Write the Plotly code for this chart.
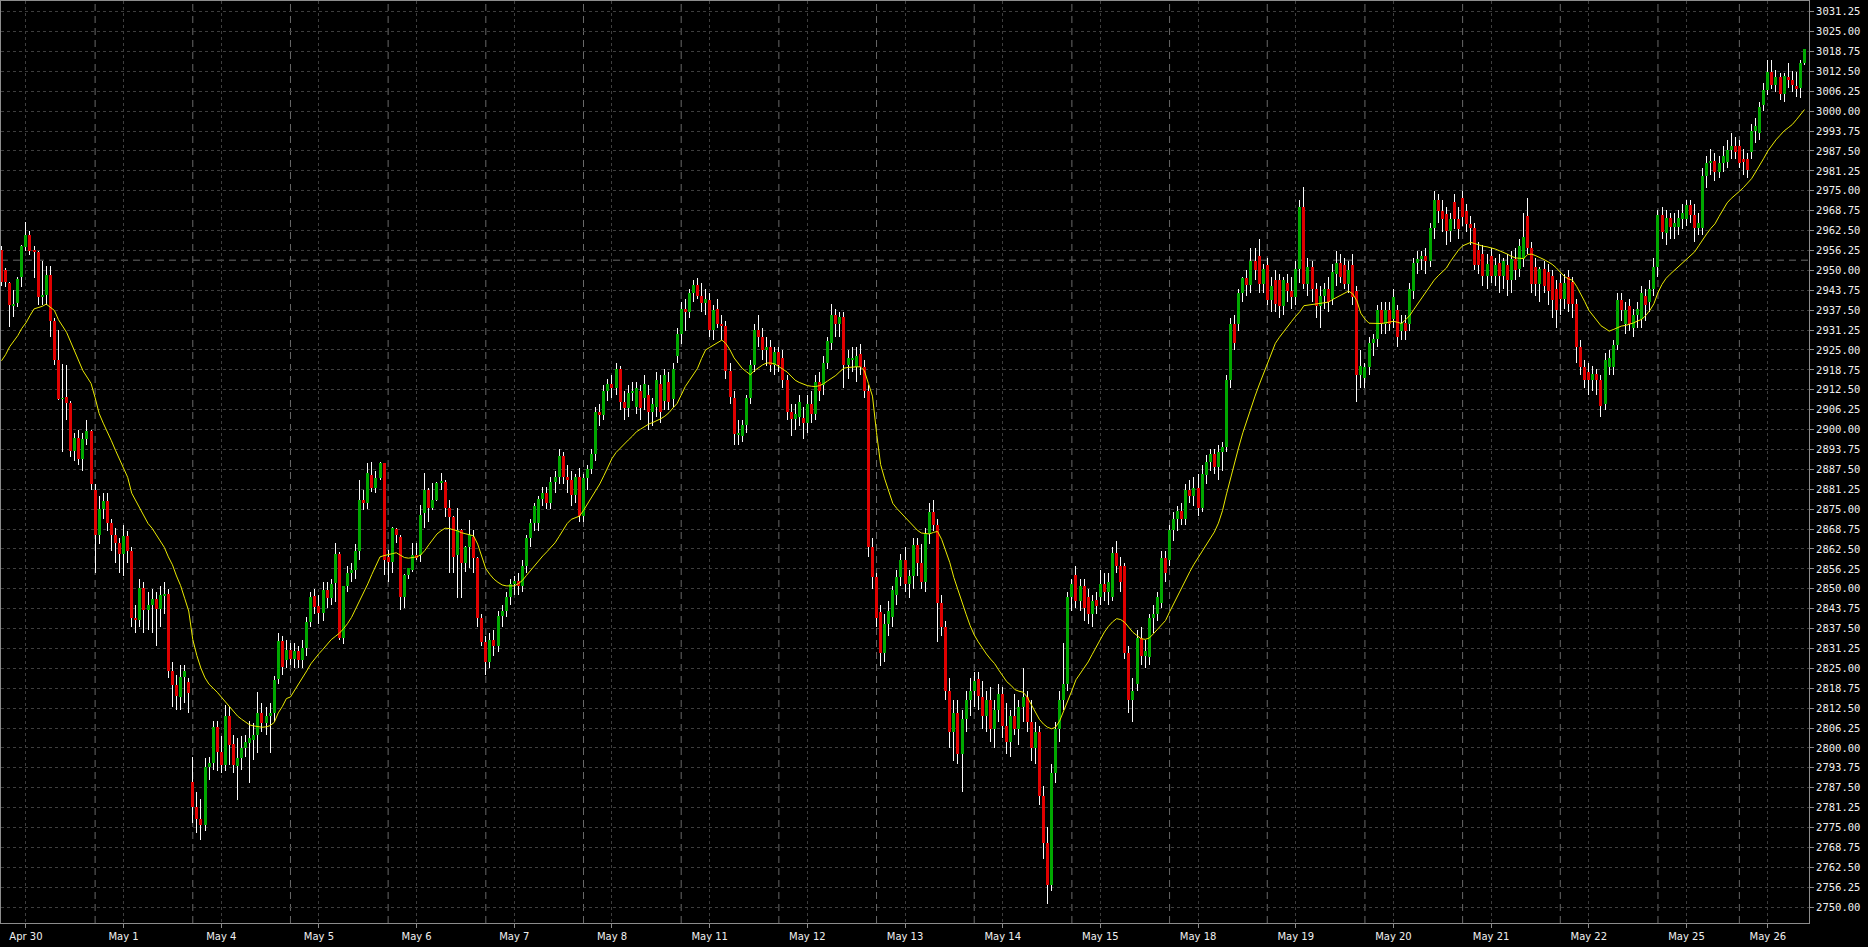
import plotly.graph_objects as go

# ---------------- data ----------------
day_labels = ["Apr 30", "May 1", "May 4", "May 5", "May 6", "May 7", "May 8", "May 11",
              "May 12", "May 13", "May 14", "May 15", "May 18", "May 19", "May 20",
              "May 21", "May 22", "May 25", "May 26"]
session_start_bars = [-1, 23, 47, 71, 95, 119, 143, 167, 191, 215, 239, 263, 287, 311,
                      335, 359, 383, 407, 427]
label_bars = [6, 30, 54, 78, 102, 126, 150, 174, 198, 222, 246, 270, 294, 318, 342,
              366, 390, 414, 434]
price_ticks = [2750.00, 2756.25, 2762.50, 2768.75, 2775.00, 2781.25, 2787.50, 2793.75,
               2800.00, 2806.25, 2812.50, 2818.75, 2825.00, 2831.25, 2837.50, 2843.75,
               2850.00, 2856.25, 2862.50, 2868.75, 2875.00, 2881.25, 2887.50, 2893.75,
               2900.00, 2906.25, 2912.50, 2918.75, 2925.00, 2931.25, 2937.50, 2943.75,
               2950.00, 2956.25, 2962.50, 2968.75, 2975.00, 2981.25, 2987.50, 2993.75,
               3000.00, 3006.25, 3012.50, 3018.75, 3025.00, 3031.25]
level_line = 2953.2

opens = [
    2956.5, 2950.0, 2946.0, 2939.0, 2939.6, 2947.8, 2957.2, 2961.1, 2956.2, 2955.9, 2941.7, 2942.3, 2948.5, 2934.2, 2921.9, 2909.6, 2910.3, 2908.4, 2893.4, 2897.5, 2890.7, 2897.0, 2899.5,
    2881.0, 2867.0, 2875.0, 2877.5, 2870.6, 2867.0, 2864.5, 2861.0, 2866.5, 2861.8, 2840.7, 2840.3, 2850.2, 2843.4, 2845.0, 2846.8, 2843.5, 2847.9, 2848.4, 2824.3, 2819.8, 2816.1, 2822.4, 2820.8,
    2789.4, 2781.4, 2777.6, 2775.8, 2793.9, 2795.2, 2806.7, 2798.8, 2794.6, 2810.0, 2801.2, 2794.3, 2796.7, 2800.1, 2801.5, 2802.5, 2804.1, 2811.1, 2807.7, 2810.0, 2810.9, 2821.6, 2833.6, 2827.6,
    2830.8, 2828.0, 2830.5, 2827.6, 2831.3, 2839.7, 2847.7, 2844.6, 2842.3, 2849.6, 2847.0, 2851.7, 2860.9, 2834.4, 2850.7, 2854.9, 2855.9, 2861.7, 2877.9, 2876.8, 2885.7, 2881.5, 2884.7, 2889.4,
    2860.0, 2858.5, 2868.7, 2866.4, 2847.5, 2854.3, 2855.9, 2860.6, 2860.6, 2873.7, 2881.0, 2875.3, 2877.9, 2883.1, 2883.6, 2875.3, 2872.6, 2860.6, 2868.5, 2858.0, 2863.2, 2866.4, 2859.6, 2840.7,
    2833.2, 2827.0, 2833.9, 2832.0, 2841.4, 2843.0, 2847.5, 2851.6, 2852.5, 2851.0, 2857.0, 2866.0, 2870.6, 2870.5, 2878.1, 2880.0, 2877.0, 2883.6, 2885.0, 2891.8, 2885.0, 2884.0, 2879.5, 2885.0,
    2873.0, 2884.9, 2887.6, 2892.4, 2905.4, 2904.7, 2912.2, 2914.2, 2913.0, 2919.0, 2908.8, 2906.7, 2911.5, 2907.0, 2912.2, 2910.0, 2911.0, 2905.4, 2907.0, 2914.2, 2909.0, 2915.0, 2909.5, 2923.0,
    2929.9, 2938.0, 2937.0, 2942.8, 2945.5, 2942.0, 2939.6, 2940.8, 2931.3, 2938.0, 2933.0, 2932.6, 2918.3, 2910.0, 2898.5, 2898.0, 2901.3, 2910.0, 2920.4, 2931.3, 2929.0, 2925.0, 2926.0, 2920.4,
    2924.5, 2922.6, 2915.6, 2905.4, 2903.4, 2904.0, 2903.5, 2902.0, 2908.1, 2905.0, 2914.9, 2914.0, 2921.0, 2927.2, 2936.0, 2933.0, 2935.3, 2920.4, 2922.0, 2919.7, 2923.8, 2919.7, 2912.2, 2863.2,
    2853.6, 2842.7, 2829.8, 2839.0, 2841.0, 2848.0, 2853.6, 2859.0, 2851.6, 2854.0, 2863.8, 2858.0, 2852.0, 2867.2, 2874.0, 2870.0, 2845.4, 2838.0, 2818.0, 2805.0, 2811.0, 2798.0, 2809.0, 2815.0,
    2818.0, 2821.6, 2816.0, 2810.0, 2815.0, 2806.0, 2812.0, 2817.0, 2807.0, 2802.0, 2810.0, 2806.0, 2813.0, 2816.0, 2808.0, 2800.0, 2805.0, 2785.0, 2770.0, 2757.0, 2792.0, 2806.0, 2815.0, 2820.0,
    2847.5, 2854.3, 2846.1, 2851.0, 2847.5, 2842.0, 2846.5, 2847.5, 2851.6, 2849.0, 2847.5, 2861.1, 2857.0, 2857.0, 2829.8, 2815.0, 2820.2, 2834.6, 2829.0, 2828.4, 2840.7, 2842.0, 2845.4, 2859.7,
    2859.0, 2868.6, 2872.0, 2874.5, 2872.0, 2880.9, 2879.0, 2881.5, 2875.5, 2885.6, 2889.7, 2892.4, 2888.3, 2893.0, 2894.5, 2915.6, 2933.3, 2933.3, 2942.8, 2947.6, 2945.5, 2953.0, 2954.4, 2945.6,
    2951.7, 2940.8, 2947.0, 2946.9, 2938.7, 2946.0, 2943.5, 2941.5, 2950.3, 2970.0, 2945.6, 2951.0, 2944.2, 2938.7, 2942.0, 2944.2, 2941.0, 2949.0, 2952.4, 2951.7, 2945.6, 2951.7, 2943.5, 2917.0,
    2916.3, 2919.7, 2927.2, 2928.5, 2937.4, 2933.0, 2937.4, 2934.6, 2937.4, 2931.0, 2933.5, 2933.3, 2943.5, 2952.4, 2953.7, 2954.4, 2953.0, 2963.3, 2972.1, 2968.7, 2967.7, 2962.5, 2971.4, 2966.0,
    2972.8, 2968.7, 2964.6, 2963.3, 2956.5, 2955.0, 2948.3, 2954.4, 2948.3, 2952.4, 2948.3, 2951.7, 2946.9, 2953.7, 2950.3, 2953.7, 2967.0, 2957.1, 2951.0, 2945.6, 2950.3, 2949.6, 2948.3, 2944.2,
    2946.0, 2941.0, 2948.0, 2946.2, 2939.4, 2925.8, 2919.7, 2918.0, 2915.6, 2917.6, 2915.6, 2908.1, 2919.7, 2919.7, 2926.5, 2940.8, 2933.3, 2938.7, 2932.0, 2936.0, 2934.6, 2942.0, 2940.0, 2944.2,
    2951.0, 2967.3, 2961.6, 2966.4, 2963.7, 2963.7, 2966.0, 2966.0, 2970.6, 2967.3, 2963.3, 2963.3, 2979.6, 2983.7, 2984.4, 2981.0, 2983.7, 2984.0, 2987.8, 2989.2,
    2989.1, 2985.0, 2985.0, 2987.1, 2993.9, 2993.2, 3002.1, 3006.8, 3012.3, 3008.2, 3010.6, 3005.4, 3010.8, 3009.8, 3007.9, 3007.2, 3015.0,
]
highs = [
    2957.5, 2950.6, 2946.5, 2943.8, 2948.0, 2958.0, 2965.1, 2962.4, 2957.5, 2956.2, 2952.9, 2951.4, 2951.4, 2935.0, 2931.3, 2920.5, 2920.3, 2909.0, 2899.0, 2900.0, 2899.0, 2903.0, 2900.0,
    2883.0, 2879.0, 2880.0, 2880.0, 2872.0, 2869.0, 2866.0, 2870.0, 2868.0, 2863.0, 2845.0, 2853.0, 2852.0, 2849.0, 2850.0, 2849.0, 2851.0, 2852.0, 2850.0, 2827.0, 2823.0, 2826.0, 2826.0, 2822.0,
    2797.3, 2786.0, 2784.0, 2796.7, 2797.0, 2808.3, 2808.3, 2803.6, 2813.4, 2813.0, 2804.0, 2803.0, 2803.6, 2804.0, 2808.3, 2807.7, 2817.7, 2814.0, 2813.0, 2814.0, 2822.5, 2836.0, 2835.0, 2834.0,
    2833.0, 2833.0, 2832.0, 2834.0, 2841.0, 2849.0, 2850.0, 2848.0, 2852.0, 2852.0, 2853.0, 2864.3, 2861.5, 2851.0, 2857.0, 2858.0, 2864.0, 2884.2, 2881.0, 2889.4, 2889.9, 2887.0, 2889.9, 2889.6,
    2862.2, 2869.5, 2869.0, 2866.9, 2854.5, 2856.6, 2864.3, 2864.3, 2876.3, 2886.3, 2881.5, 2883.1, 2883.6, 2886.3, 2884.2, 2877.9, 2872.8, 2875.3, 2868.8, 2863.5, 2871.6, 2868.5, 2860.0, 2842.0,
    2835.0, 2836.0, 2837.0, 2843.0, 2845.0, 2849.0, 2853.0, 2854.0, 2855.0, 2859.0, 2867.0, 2872.0, 2877.0, 2879.0, 2882.0, 2882.0, 2885.0, 2887.0, 2894.0, 2893.0, 2889.0, 2887.0, 2886.0, 2888.0,
    2886.0, 2889.0, 2894.0, 2907.0, 2908.0, 2914.0, 2916.0, 2917.0, 2921.0, 2920.0, 2912.0, 2914.0, 2915.0, 2915.0, 2914.0, 2917.0, 2914.0, 2910.0, 2918.0, 2917.0, 2919.0, 2918.0, 2921.0, 2932.0,
    2940.0, 2941.0, 2944.0, 2947.0, 2947.5, 2946.0, 2944.0, 2943.0, 2939.0, 2941.0, 2936.0, 2934.0, 2921.0, 2912.0, 2903.0, 2903.0, 2911.0, 2922.0, 2933.0, 2936.0, 2932.0, 2929.0, 2928.0, 2926.0,
    2926.0, 2925.0, 2917.0, 2908.0, 2908.0, 2911.0, 2907.0, 2911.0, 2912.0, 2917.0, 2918.0, 2923.0, 2929.0, 2939.5, 2938.0, 2937.0, 2937.0, 2925.0, 2926.0, 2926.0, 2927.0, 2922.0, 2914.0, 2866.0,
    2855.0, 2845.0, 2842.0, 2846.0, 2851.0, 2856.0, 2861.0, 2863.0, 2856.0, 2866.0, 2866.0, 2864.0, 2869.0, 2877.0, 2878.0, 2872.0, 2848.0, 2840.0, 2822.0, 2815.0, 2815.0, 2812.0, 2818.0, 2822.0,
    2824.0, 2824.0, 2821.0, 2818.0, 2819.0, 2815.0, 2820.0, 2819.0, 2814.0, 2812.0, 2817.0, 2815.0, 2825.0, 2818.0, 2815.0, 2808.0, 2807.0, 2788.0, 2775.0, 2795.0, 2808.0, 2818.0, 2833.0, 2849.0,
    2853.0, 2857.0, 2853.0, 2853.0, 2850.0, 2848.0, 2849.0, 2856.0, 2855.0, 2855.0, 2863.0, 2865.0, 2860.0, 2858.0, 2832.0, 2822.0, 2837.0, 2838.0, 2834.0, 2842.0, 2845.0, 2849.0, 2862.0, 2862.0,
    2870.0, 2874.0, 2876.0, 2877.0, 2883.0, 2884.0, 2885.0, 2886.0, 2889.0, 2892.0, 2894.0, 2894.0, 2895.0, 2896.0, 2917.0, 2935.0, 2936.0, 2944.0, 2948.0, 2950.0, 2957.0, 2957.0, 2960.0, 2952.0,
    2954.0, 2948.0, 2950.0, 2949.0, 2948.0, 2949.0, 2948.0, 2953.0, 2972.0, 2976.2, 2954.0, 2953.0, 2946.0, 2945.0, 2946.0, 2948.0, 2952.0, 2956.0, 2955.0, 2954.0, 2953.0, 2955.0, 2945.0, 2925.0,
    2921.0, 2929.0, 2930.0, 2939.0, 2940.0, 2940.0, 2940.0, 2944.0, 2939.0, 2936.0, 2936.0, 2946.0, 2954.0, 2956.0, 2956.0, 2957.0, 2965.0, 2975.0, 2974.0, 2972.0, 2970.0, 2968.0, 2974.0, 2970.0,
    2975.0, 2971.0, 2967.0, 2965.0, 2959.0, 2958.0, 2955.0, 2957.0, 2954.0, 2955.0, 2954.0, 2955.0, 2956.0, 2957.0, 2960.0, 2968.0, 2972.8, 2959.0, 2954.0, 2951.0, 2953.0, 2952.0, 2950.0, 2947.0,
    2949.0, 2949.0, 2950.0, 2948.0, 2941.0, 2928.0, 2922.0, 2921.0, 2920.0, 2919.0, 2917.0, 2924.0, 2925.0, 2928.0, 2943.0, 2943.0, 2940.0, 2941.0, 2938.0, 2940.0, 2945.0, 2944.0, 2947.0, 2954.0,
    2969.0, 2970.0, 2969.0, 2968.0, 2968.0, 2969.0, 2971.0, 2972.0, 2972.0, 2971.0, 2968.0, 2982.0, 2986.0, 2988.0, 2987.0, 2986.0, 2989.0, 2991.0, 2993.0, 2992.0,
    2991.0, 2988.0, 2987.0, 2996.0, 2998.0, 3003.0, 3009.0, 3016.0, 3016.0, 3013.0, 3012.0, 3012.0, 3015.2, 3012.7, 3012.4, 3016.0, 3019.6,
]
lows = [
    2945.0, 2944.7, 2932.3, 2935.3, 2938.4, 2944.9, 2956.0, 2954.8, 2947.5, 2939.1, 2939.0, 2939.1, 2929.0, 2920.3, 2909.3, 2893.0, 2903.0, 2891.5, 2890.0, 2889.0, 2887.0, 2895.0, 2881.0,
    2855.0, 2864.0, 2872.0, 2868.0, 2862.0, 2858.0, 2855.0, 2854.0, 2858.0, 2838.0, 2836.0, 2838.0, 2836.0, 2837.0, 2836.0, 2832.0, 2838.0, 2842.0, 2822.0, 2813.0, 2812.0, 2812.0, 2814.0, 2811.0,
    2776.3, 2773.2, 2771.1, 2774.0, 2790.0, 2793.0, 2792.6, 2792.0, 2792.6, 2794.6, 2792.0, 2783.7, 2793.0, 2797.0, 2788.9, 2796.2, 2798.3, 2805.0, 2804.0, 2798.3, 2808.0, 2820.0, 2823.0, 2825.0,
    2826.0, 2825.0, 2825.0, 2825.0, 2829.0, 2838.0, 2842.0, 2839.0, 2840.0, 2844.0, 2845.0, 2845.9, 2833.9, 2832.6, 2849.0, 2852.0, 2853.0, 2859.0, 2874.7, 2875.0, 2880.5, 2880.0, 2884.2, 2854.3,
    2852.2, 2854.8, 2864.3, 2843.3, 2843.8, 2853.0, 2855.4, 2859.0, 2858.5, 2869.0, 2871.1, 2874.7, 2877.4, 2881.0, 2872.6, 2854.8, 2854.8, 2847.0, 2847.0, 2855.4, 2856.4, 2854.8, 2838.0, 2832.0,
    2823.0, 2825.0, 2829.0, 2830.0, 2838.0, 2841.0, 2845.0, 2848.0, 2848.0, 2849.0, 2855.0, 2863.0, 2868.0, 2868.0, 2876.0, 2875.0, 2875.0, 2880.0, 2883.0, 2883.0, 2880.0, 2876.0, 2877.0, 2871.0,
    2871.0, 2881.0, 2886.0, 2890.0, 2901.0, 2903.0, 2909.0, 2910.0, 2911.0, 2906.0, 2903.0, 2904.0, 2909.0, 2905.0, 2903.0, 2906.0, 2900.0, 2901.0, 2904.0, 2902.0, 2906.0, 2906.0, 2907.0, 2921.0,
    2927.0, 2931.0, 2935.0, 2940.0, 2941.0, 2937.0, 2936.0, 2929.0, 2928.0, 2932.0, 2928.0, 2916.0, 2908.0, 2895.1, 2895.0, 2896.0, 2899.0, 2908.0, 2918.0, 2926.0, 2922.0, 2920.0, 2918.0, 2917.0,
    2918.0, 2913.0, 2903.0, 2898.0, 2900.0, 2901.0, 2897.0, 2899.0, 2902.0, 2903.0, 2909.0, 2911.0, 2919.0, 2925.0, 2929.0, 2929.0, 2912.9, 2916.0, 2918.0, 2915.0, 2917.0, 2910.0, 2860.0, 2850.0,
    2838.0, 2825.7, 2827.0, 2835.0, 2838.0, 2845.0, 2851.0, 2849.0, 2847.0, 2850.0, 2854.0, 2850.0, 2849.0, 2864.0, 2868.0, 2833.2, 2835.0, 2815.0, 2800.0, 2796.0, 2795.0, 2786.0, 2805.0, 2810.0,
    2813.0, 2812.0, 2806.0, 2805.0, 2802.0, 2800.0, 2808.0, 2803.0, 2798.0, 2797.0, 2804.0, 2801.0, 2808.0, 2805.0, 2796.0, 2795.0, 2782.0, 2765.0, 2751.0, 2755.0, 2789.0, 2802.0, 2812.0, 2818.0,
    2843.0, 2844.0, 2843.0, 2840.0, 2839.0, 2838.0, 2842.0, 2845.0, 2846.0, 2845.0, 2846.0, 2855.0, 2849.0, 2828.0, 2811.0, 2808.0, 2818.0, 2826.0, 2825.0, 2826.0, 2836.0, 2840.0, 2844.0, 2852.0,
    2857.0, 2865.0, 2868.0, 2870.0, 2870.0, 2877.0, 2876.0, 2873.0, 2874.0, 2883.0, 2887.0, 2886.0, 2884.0, 2887.0, 2893.0, 2913.0, 2925.0, 2931.0, 2940.0, 2942.0, 2943.0, 2947.0, 2943.0, 2943.0,
    2939.0, 2937.0, 2937.0, 2935.0, 2936.0, 2940.0, 2938.0, 2939.0, 2946.0, 2944.0, 2942.0, 2940.0, 2935.0, 2932.0, 2938.0, 2937.0, 2939.0, 2945.0, 2946.0, 2944.0, 2943.0, 2939.0, 2908.8, 2913.0,
    2913.0, 2917.0, 2923.0, 2926.0, 2930.0, 2930.0, 2931.0, 2932.0, 2926.0, 2928.0, 2928.0, 2931.0, 2941.0, 2949.0, 2950.0, 2949.0, 2951.0, 2960.0, 2965.0, 2962.0, 2958.0, 2959.0, 2963.0, 2960.0,
    2964.0, 2962.0, 2958.0, 2950.0, 2949.0, 2945.0, 2944.0, 2946.0, 2945.0, 2943.0, 2944.0, 2942.0, 2943.0, 2947.0, 2948.0, 2951.0, 2955.0, 2943.0, 2942.0, 2940.0, 2943.0, 2939.0, 2935.0, 2932.0,
    2936.0, 2938.0, 2937.0, 2935.0, 2921.0, 2917.0, 2913.0, 2911.0, 2912.0, 2911.0, 2904.0, 2906.0, 2917.0, 2917.0, 2925.0, 2934.0, 2930.0, 2931.0, 2929.0, 2932.0, 2932.0, 2934.0, 2937.0, 2942.0,
    2948.0, 2960.0, 2958.0, 2960.0, 2960.0, 2961.0, 2963.0, 2964.0, 2965.0, 2959.0, 2961.0, 2961.0, 2976.0, 2980.0, 2978.0, 2979.0, 2981.0, 2982.0, 2985.0, 2985.0,
    2982.0, 2980.0, 2979.0, 2985.0, 2990.0, 2991.0, 3000.0, 3005.0, 3007.0, 3006.0, 3003.5, 3003.0, 3007.2, 3006.1, 3004.3, 3004.0, 3014.5,
]
closes = [
    2946.5, 2946.5, 2939.1, 2939.4, 2947.3, 2957.5, 2961.1, 2956.2, 2955.9, 2941.5, 2942.0, 2948.5, 2934.2, 2921.9, 2909.5, 2909.9, 2908.4, 2893.4, 2897.5, 2890.7, 2897.0, 2899.5, 2883.0,
    2867.0, 2875.0, 2877.5, 2870.6, 2867.0, 2864.5, 2861.0, 2866.5, 2861.8, 2840.7, 2840.3, 2850.2, 2843.4, 2845.0, 2846.8, 2843.5, 2847.9, 2848.4, 2824.3, 2819.8, 2816.3, 2822.4, 2824.3, 2817.4,
    2781.4, 2777.6, 2775.8, 2794.1, 2795.2, 2806.7, 2798.8, 2794.6, 2810.0, 2800.9, 2794.6, 2796.7, 2800.1, 2801.7, 2803.0, 2804.1, 2810.9, 2807.7, 2810.0, 2810.9, 2821.4, 2833.6, 2825.5, 2830.8,
    2828.0, 2830.5, 2827.6, 2831.3, 2839.7, 2847.5, 2844.4, 2842.3, 2849.6, 2847.0, 2851.5, 2860.9, 2834.4, 2850.7, 2854.9, 2855.9, 2861.7, 2877.9, 2876.8, 2886.3, 2881.5, 2884.7, 2889.4, 2859.0,
    2858.5, 2869.0, 2866.9, 2847.5, 2854.3, 2856.4, 2860.6, 2859.6, 2873.2, 2881.0, 2875.3, 2877.9, 2883.1, 2883.8, 2875.3, 2872.6, 2860.1, 2868.5, 2858.0, 2863.2, 2866.9, 2859.6, 2840.7, 2833.2,
    2827.0, 2833.9, 2832.0, 2841.4, 2843.0, 2847.5, 2851.6, 2852.5, 2851.0, 2857.0, 2866.0, 2870.6, 2876.0, 2878.1, 2880.0, 2877.0, 2883.6, 2885.0, 2891.8, 2885.0, 2884.0, 2879.5, 2885.0, 2873.0,
    2884.9, 2887.6, 2892.4, 2905.4, 2904.7, 2912.2, 2914.2, 2913.0, 2919.0, 2908.8, 2906.7, 2911.5, 2912.2, 2912.9, 2906.7, 2914.2, 2905.4, 2908.0, 2915.6, 2905.4, 2917.0, 2908.8, 2919.0, 2929.9,
    2938.0, 2937.0, 2942.8, 2945.5, 2942.0, 2939.6, 2941.0, 2931.3, 2937.4, 2933.0, 2932.6, 2918.3, 2910.1, 2898.5, 2899.0, 2901.3, 2910.0, 2920.4, 2931.3, 2929.0, 2925.0, 2926.0, 2920.4, 2924.5,
    2920.4, 2915.6, 2905.4, 2903.4, 2905.0, 2908.8, 2902.0, 2908.1, 2905.0, 2914.9, 2912.0, 2921.0, 2927.8, 2936.0, 2933.0, 2935.3, 2920.4, 2922.4, 2922.3, 2923.0, 2919.7, 2912.2, 2863.2, 2853.6,
    2840.7, 2829.8, 2839.0, 2843.0, 2849.5, 2853.6, 2859.0, 2851.6, 2854.0, 2863.8, 2858.0, 2852.0, 2867.2, 2874.0, 2870.0, 2845.4, 2838.0, 2818.0, 2805.0, 2811.0, 2798.0, 2809.0, 2815.0, 2818.0,
    2820.9, 2816.2, 2810.0, 2815.0, 2806.0, 2812.0, 2817.0, 2807.0, 2802.0, 2810.0, 2806.0, 2813.0, 2816.0, 2808.0, 2800.0, 2805.0, 2785.0, 2770.0, 2757.0, 2792.0, 2806.0, 2815.0, 2820.0, 2847.5,
    2851.6, 2846.1, 2851.0, 2844.0, 2842.0, 2846.0, 2844.5, 2851.6, 2849.0, 2852.0, 2861.1, 2857.0, 2852.0, 2829.8, 2815.0, 2818.0, 2834.6, 2829.0, 2830.5, 2840.7, 2842.0, 2847.5, 2859.7, 2855.0,
    2868.6, 2872.0, 2874.5, 2872.0, 2880.9, 2879.0, 2881.5, 2875.5, 2886.0, 2889.7, 2892.4, 2888.3, 2893.0, 2894.5, 2915.6, 2933.3, 2927.2, 2942.8, 2947.6, 2945.5, 2953.0, 2950.0, 2945.6, 2950.4,
    2940.8, 2945.0, 2939.4, 2938.7, 2946.9, 2943.5, 2941.5, 2950.3, 2970.0, 2945.6, 2951.0, 2944.2, 2938.7, 2942.0, 2944.2, 2940.0, 2949.6, 2952.4, 2948.0, 2945.6, 2950.0, 2941.5, 2917.0, 2920.0,
    2919.7, 2927.2, 2928.5, 2937.4, 2933.0, 2937.4, 2933.3, 2941.5, 2929.2, 2933.5, 2931.0, 2944.2, 2952.4, 2953.7, 2954.4, 2953.0, 2963.3, 2972.1, 2968.7, 2966.0, 2962.5, 2966.0, 2966.0, 2963.0,
    2966.7, 2964.6, 2963.3, 2951.7, 2951.7, 2948.3, 2952.0, 2948.3, 2951.7, 2948.3, 2953.0, 2946.9, 2953.7, 2950.0, 2957.8, 2960.5, 2957.1, 2945.6, 2945.6, 2950.3, 2945.0, 2943.5, 2940.8, 2937.4,
    2941.0, 2946.0, 2939.4, 2939.4, 2925.8, 2919.7, 2915.6, 2915.6, 2917.6, 2915.6, 2907.4, 2921.7, 2922.4, 2926.5, 2940.8, 2937.4, 2937.4, 2933.3, 2936.0, 2938.0, 2942.8, 2939.0, 2944.2, 2951.0,
    2967.3, 2962.0, 2966.4, 2963.7, 2965.0, 2966.4, 2968.0, 2970.6, 2967.3, 2963.3, 2965.0, 2979.6, 2983.7, 2984.4, 2981.0, 2983.7, 2986.0, 2987.8, 2989.2, 2987.1,
    2983.7, 2984.0, 2981.6, 2993.9, 2995.5, 3001.4, 3006.8, 3012.3, 3008.2, 3010.6, 3005.4, 3011.0, 3009.8, 3008.2, 3006.9, 3015.0, 3019.5,
]
ma_values = [
    2921.6, 2923.5, 2926.0, 2927.6, 2929.5, 2931.8, 2933.5, 2935.8, 2937.9, 2938.3, 2938.7, 2939.4, 2938.5, 2937.4, 2934.5, 2932.3, 2930.5, 2927.5, 2924.5, 2921.5, 2918.5, 2916.5, 2914.5,
    2910.0, 2905.0, 2902.0, 2899.5, 2896.5, 2893.5, 2890.5, 2888.0, 2885.0, 2880.0, 2877.5, 2875.0, 2872.5, 2870.5, 2869.0, 2867.0, 2865.0, 2863.0, 2860.0, 2857.5, 2854.0, 2851.0, 2847.0, 2843.0,
    2834.0, 2829.0, 2825.0, 2822.0, 2820.0, 2818.9, 2817.5, 2816.0, 2814.5, 2813.0, 2811.5, 2810.0, 2809.0, 2808.0, 2807.2, 2806.9, 2806.6, 2806.5, 2806.6, 2807.0, 2808.0, 2811.0, 2813.0, 2815.5,
    2816.0, 2818.0, 2819.8, 2821.8, 2824.2, 2826.4, 2828.2, 2829.6, 2831.0, 2832.6, 2834.0, 2835.0, 2836.0, 2837.4, 2839.0, 2841.0, 2843.5, 2846.0, 2848.5, 2851.5, 2854.5, 2857.5, 2860.0, 2860.4,
    2860.6, 2861.0, 2861.3, 2860.6, 2859.8, 2859.6, 2859.7, 2860.0, 2860.6, 2862.0, 2863.8, 2865.6, 2867.2, 2868.2, 2869.0, 2868.9, 2868.6, 2868.2, 2867.6, 2867.2, 2866.9, 2866.6, 2864.0, 2860.0,
    2856.3, 2854.5, 2853.0, 2852.0, 2851.2, 2850.9, 2850.9, 2850.9, 2851.6, 2852.6, 2854.2, 2855.8, 2857.4, 2858.8, 2860.3, 2861.6, 2863.0, 2864.4, 2866.4, 2868.4, 2870.5, 2871.8, 2872.3, 2872.8,
    2874.6, 2876.7, 2878.8, 2880.9, 2882.9, 2885.5, 2888.3, 2890.9, 2892.8, 2894.2, 2895.4, 2896.7, 2897.9, 2899.3, 2900.1, 2900.9, 2901.7, 2902.2, 2902.7, 2903.4, 2904.2, 2905.3, 2906.8, 2908.2,
    2910.8, 2913.5, 2915.4, 2917.3, 2919.2, 2922.3, 2925.0, 2925.8, 2926.5, 2927.3, 2928.1, 2927.0, 2925.0, 2922.5, 2920.8, 2919.2, 2918.2, 2917.2, 2918.5, 2919.5, 2920.3, 2920.9, 2920.9, 2920.6,
    2919.8, 2918.9, 2918.1, 2916.8, 2915.5, 2914.8, 2914.2, 2913.8, 2913.6, 2913.5, 2913.8, 2914.4, 2915.3, 2916.2, 2917.0, 2918.2, 2919.3, 2919.5, 2919.7, 2919.7, 2919.7, 2918.5, 2914.5, 2910.5,
    2899.0, 2889.0, 2884.5, 2880.5, 2876.8, 2875.2, 2873.8, 2872.6, 2871.2, 2869.8, 2868.4, 2867.5, 2867.3, 2867.2, 2867.7, 2868.0, 2865.5, 2862.0, 2858.2, 2853.5, 2849.5, 2845.6, 2842.0, 2838.4,
    2835.5, 2833.3, 2831.3, 2829.5, 2827.9, 2826.5, 2824.5, 2822.6, 2820.8, 2819.7, 2818.3, 2817.8, 2817.5, 2816.0, 2813.5, 2811.0, 2809.0, 2807.5, 2806.5, 2806.0, 2806.5, 2808.5, 2811.5, 2815.0,
    2818.0, 2821.4, 2823.2, 2825.0, 2827.0, 2829.4, 2831.8, 2834.2, 2836.4, 2838.2, 2839.6, 2840.6, 2840.3, 2839.4, 2838.0, 2836.3, 2835.3, 2834.3, 2834.1, 2834.5, 2835.8, 2837.3, 2838.5, 2840.0,
    2842.7, 2845.3, 2848.0, 2850.5, 2853.0, 2855.4, 2857.7, 2859.8, 2861.8, 2863.8, 2865.8, 2867.8, 2870.6, 2874.5, 2879.8, 2885.0, 2890.0, 2894.5, 2899.0, 2903.0, 2907.0, 2910.5, 2914.0, 2917.3,
    2921.0, 2924.0, 2927.1, 2929.0, 2930.8, 2932.4, 2934.0, 2935.6, 2937.0, 2938.9, 2939.1, 2939.2, 2939.3, 2939.5, 2939.7, 2940.0, 2940.8, 2941.5, 2942.2, 2942.8, 2943.5, 2942.6, 2940.5, 2936.5,
    2934.7, 2933.4, 2933.3, 2933.3, 2933.3, 2933.5, 2933.8, 2934.0, 2933.7, 2933.3, 2934.5, 2935.8, 2937.7, 2939.5, 2941.4, 2943.3, 2945.2, 2946.9, 2948.3, 2949.5, 2950.7, 2952.8, 2954.7, 2956.4,
    2957.7, 2958.3, 2958.8, 2958.4, 2957.9, 2957.6, 2957.4, 2957.1, 2956.7, 2956.2, 2955.7, 2955.1, 2954.4, 2953.9, 2953.8, 2953.7, 2955.0, 2955.1, 2954.6, 2954.1, 2953.4, 2952.7, 2951.9, 2950.8,
    2949.3, 2948.1, 2947.3, 2946.9, 2945.0, 2942.8, 2940.2, 2937.5, 2935.8, 2934.2, 2932.6, 2931.8, 2930.9, 2931.4, 2931.9, 2932.5, 2932.7, 2933.0, 2933.5, 2934.1, 2934.6, 2935.8, 2937.4, 2939.5,
    2943.0, 2945.6, 2947.5, 2948.8, 2950.0, 2951.2, 2952.4, 2953.7, 2954.7, 2955.8, 2957.7, 2959.7, 2961.5, 2963.2, 2964.6, 2966.9, 2969.2, 2971.2, 2972.6, 2973.6,
    2974.8, 2976.0, 2977.4, 2978.8, 2980.9, 2982.9, 2985.2, 2987.5, 2989.4, 2991.0, 2992.4, 2993.8, 2994.8, 2995.8, 2997.3, 2999.0, 3000.5,
]

assert len(opens) == len(highs) == len(lows) == len(closes) == len(ma_values) == 444

# ---------------- layout constants ----------------
FIG_W, FIG_H = 1868, 947
M_L, M_R, M_T, M_B = 1, 59, 1, 24
PLOT_W = FIG_W - M_L - M_R
X_MIN, X_MAX = -0.123, 444.11
Y_MIN, Y_MAX = 2745.0, 3034.61
UNIT = (X_MAX - X_MIN) / PLOT_W      # data units per pixel

BG = "#000000"
UP = "#00a800"
DOWN = "#e00000"
WICK = "rgba(255,255,255,0.99)"
MA_COLOR = "#eaea00"
GRID = "#3e3e3e"
SEP = "#686868"
FRAME = "#8c8c8c"
TXT = "#f0f0f0"

idx = list(range(len(closes)))

up_x, up_base, up_h, dn_x, dn_base, dn_h = [], [], [], [], [], []
for i, (o, c) in enumerate(zip(opens, closes)):
    if c >= o:
        up_x.append(i); up_base.append(o); up_h.append(c - o)
    else:
        dn_x.append(i); dn_base.append(c); dn_h.append(o - c)

fig = go.Figure()
fig.add_trace(go.Bar(x=idx, base=lows, y=[h - l for h, l in zip(highs, lows)],
                     width=UNIT, marker=dict(color=WICK, line=dict(width=0)),
                     hoverinfo="skip"))
fig.add_trace(go.Bar(x=up_x, base=up_base, y=up_h, width=3 * UNIT,
                     marker=dict(color=UP, line=dict(width=0)), hoverinfo="skip"))
fig.add_trace(go.Bar(x=dn_x, base=dn_base, y=dn_h, width=3 * UNIT,
                     marker=dict(color=DOWN, line=dict(width=0)), hoverinfo="skip"))
fig.add_trace(go.Scatter(x=idx, y=ma_values, mode="lines",
                         line=dict(color=MA_COLOR, width=1), hoverinfo="skip"))

shapes = []
for s in session_start_bars:
    if X_MIN < s < X_MAX:
        shapes.append(dict(type="line", xref="x", yref="paper", x0=s, x1=s, y0=0, y1=1,
                           line=dict(color=SEP, width=1, dash="7px,5px"), layer="below"))
shapes.append(dict(type="line", xref="paper", yref="y", x0=0, x1=1, y0=level_line, y1=level_line,
                   line=dict(color=SEP, width=1, dash="7px,5px"), layer="below"))

fig.update_layout(
    width=FIG_W, height=FIG_H,
    margin=dict(l=M_L, r=M_R, t=M_T, b=M_B, pad=0),
    paper_bgcolor=BG, plot_bgcolor=BG,
    showlegend=False, barmode="overlay", bargap=0, bargroupgap=0,
    shapes=shapes,
    xaxis=dict(range=[X_MIN, X_MAX], tickmode="array", tickvals=label_bars, ticktext=day_labels,
               showgrid=True, gridcolor=GRID, griddash="dot", gridwidth=1,
               ticks="outside", ticklen=4, tickcolor=FRAME, tickwidth=1,
               showline=True, linecolor=FRAME, linewidth=1, mirror=True,
               zeroline=False, automargin=False, fixedrange=True,
               tickfont=dict(family="DejaVu Sans", size=10, color=TXT)),
    yaxis=dict(range=[Y_MIN, Y_MAX], side="right", tickmode="array", tickvals=price_ticks,
               ticktext=[f"{v:.2f}" for v in price_ticks],
               showgrid=True, gridcolor=GRID, griddash="dot", gridwidth=1,
               ticks="outside", ticklen=4, tickcolor=FRAME, tickwidth=1,
               showline=True, linecolor=FRAME, linewidth=1, mirror=True,
               zeroline=False, automargin=False, fixedrange=True,
               tickfont=dict(family="DejaVu Sans Mono", size=10.5, color=TXT)),
)

fig.write_html("out.html", config={"displayModeBar": False},
               post_script="document.body.style.margin='0';document.body.style.overflow='hidden';")
